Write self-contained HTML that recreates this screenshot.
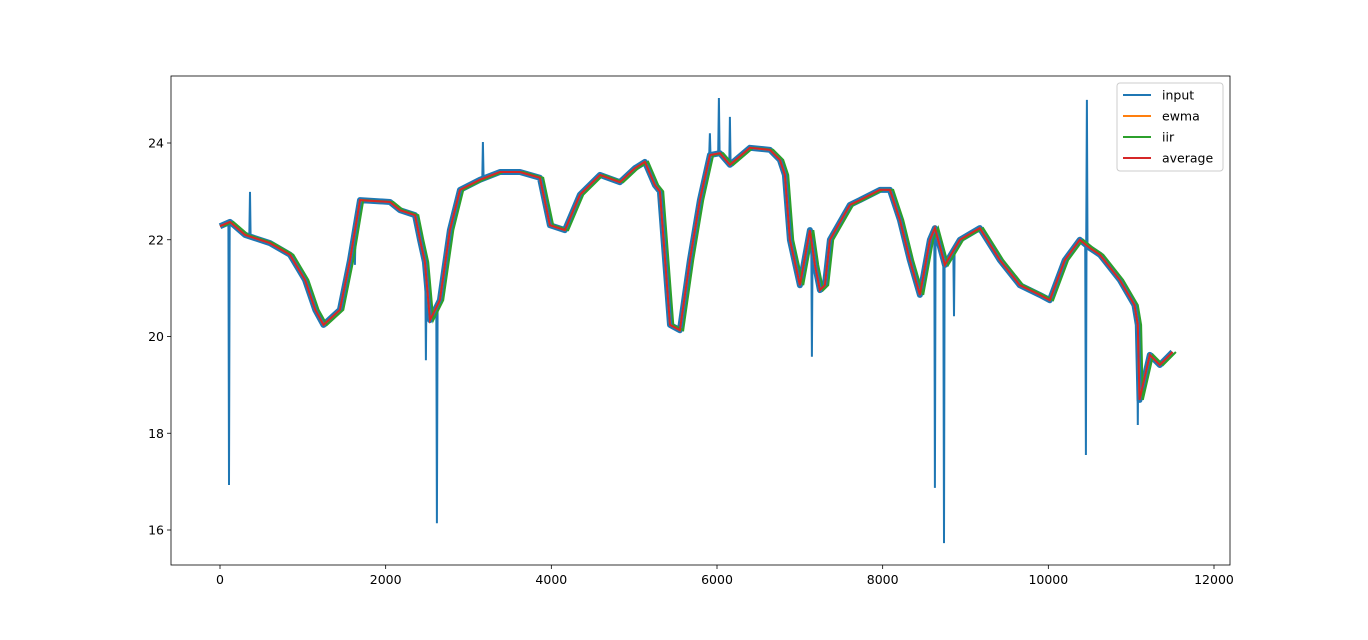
<!DOCTYPE html>
<html><head><meta charset="utf-8"><style>
body{margin:0;background:#fff;font-family:"Liberation Sans","DejaVu Sans",sans-serif;}
svg text{font-family:"DejaVu Sans","Liberation Sans",sans-serif;font-size:12.5px;fill:#000}
</style></head><body>
<svg id="chart" width="1368" height="635" xmlns="http://www.w3.org/2000/svg">
<rect width="1368" height="635" fill="#fff"/>
</svg>
<script>
const baseX=[0,121,302,604,845,1026,1150,1250,1448,1569,1690,2052,2173,2354,2414,2474,2535,2655,2776,2897,3138,3380,3621,3862,3983,4164,4345,4587,4828,5009,5130,5250,5311,5432,5552,5673,5794,5914,6035,6156,6397,6639,6759,6820,6880,7001,7122,7182,7242,7303,7363,7604,7725,7966,8087,8208,8328,8449,8570,8631,8751,8932,9173,9415,9656,9897,10018,10199,10380,10500,10622,10863,11040,11080,11100,11225,11346,11500];
const baseY=[22.28,22.37,22.10,21.93,21.69,21.17,20.55,20.24,20.55,21.58,22.82,22.78,22.61,22.51,22.0,21.54,20.34,20.75,22.20,23.03,23.24,23.40,23.40,23.28,22.30,22.20,22.93,23.34,23.19,23.48,23.61,23.13,23.0,20.24,20.13,21.58,22.82,23.75,23.79,23.55,23.90,23.86,23.65,23.34,22.0,21.06,22.20,21.48,20.96,21.06,22.0,22.72,22.82,23.03,23.03,22.41,21.58,20.86,22.0,22.24,21.48,22.0,22.24,21.58,21.06,20.86,20.75,21.58,22.0,21.83,21.69,21.17,20.65,20.24,18.69,19.62,19.41,19.68];
const spikeX=[109,362,1629,2486,2619,3174,5914,6023,6156,7146,8631,8740,8861,10453,10465,11080];
const spikeY=[16.93,22.99,21.48,19.51,16.14,24.02,24.2,24.93,24.54,19.58,16.87,15.73,20.42,17.55,24.89,18.17];
const xTicks=[0,2000,4000,6000,8000,10000,12000];
const yTicks=[16,18,20,22,24];
const seriesNames=["input","ewma","iir","average"];
const colors=["#1f77b4","#ff7f0e","#2ca02c","#d62728"];

const L=171,R=1230,T=76,B=565;
const sx=v=>220+v*(1214-220)/12000;
const sy=v=>143+(24-v)*(530-143)/8;
const svg=document.getElementById('chart');
const NS="http://www.w3.org/2000/svg";
function mk(tag,attrs,parent){const e=document.createElementNS(NS,tag);for(const k in attrs)e.setAttribute(k,attrs[k]);(parent||svg).appendChild(e);return e;}

xTicks.forEach(t=>{
  const g=mk('g',{});
  
  
  mk('line',{x1:sx(t),x2:sx(t),y1:B,y2:B+4,stroke:'#000','stroke-width':0.8},g);
  const tx=mk('text',{x:sx(t),y:B+19,'text-anchor':'middle'},g);tx.textContent=t;
});
yTicks.forEach(t=>{
  const g=mk('g',{});
  
  
  mk('line',{x1:L-4,x2:L,y1:sy(t),y2:sy(t),stroke:'#000','stroke-width':0.8},g);
  const tx=mk('text',{x:L-7,y:sy(t)+4.5,'text-anchor':'end'},g);tx.textContent=t;
});

function baseAt(x){let j=0;while(j<baseX.length-2&&baseX[j+1]<x)j++;
  const f=(x-baseX[j])/(baseX[j+1]-baseX[j]||1);return baseY[j]+f*(baseY[j+1]-baseY[j]);}
function path(arr,dx){return arr.map((p,i)=>(i?'L':'M')+sx(p[0]+(dx||0)).toFixed(1)+','+sy(p[1]).toFixed(1)).join(' ');}
const basePts=baseX.map((x,i)=>[x,baseY[i]]);
const inpG=mk('g',{});


mk('path',{d:path(basePts),fill:'none',stroke:colors[0],'stroke-width':6,'stroke-linejoin':'round'},inpG);
spikeX.forEach((x,i)=>{
  const b=baseAt(x);
  const s=mk('path',{d:path([[x-8,b],[x,spikeY[i]],[x+8,b]]),fill:'none',stroke:colors[0],'stroke-width':2},inpG);
  
  
});
const ew=mk('path',{d:path(basePts),fill:'none',stroke:colors[1],'stroke-width':2});


const ii=mk('path',{d:path(basePts,40),fill:'none',stroke:colors[2],'stroke-width':2});


const av=mk('path',{d:path(basePts),fill:'none',stroke:colors[3],'stroke-width':2});



const frame=mk('rect',{x:L,y:T,width:R-L,height:B-T,fill:'none',stroke:'#000','stroke-width':0.8});



const lg=mk('g',{});


mk('rect',{x:1117,y:83,width:106,height:88,rx:3,fill:'#fff','fill-opacity':0.8,stroke:'#ccc'},lg);
seriesNames.forEach((n,i)=>{
  const y=95+i*21;
  const e=mk('g',{},lg);
  
  
  mk('line',{x1:1123,x2:1151,y1:y,y2:y,stroke:colors[i],'stroke-width':2},e);
  const t=mk('text',{x:1162,y:y+4.5},e);t.textContent=n;
});
</script>
</body></html>
